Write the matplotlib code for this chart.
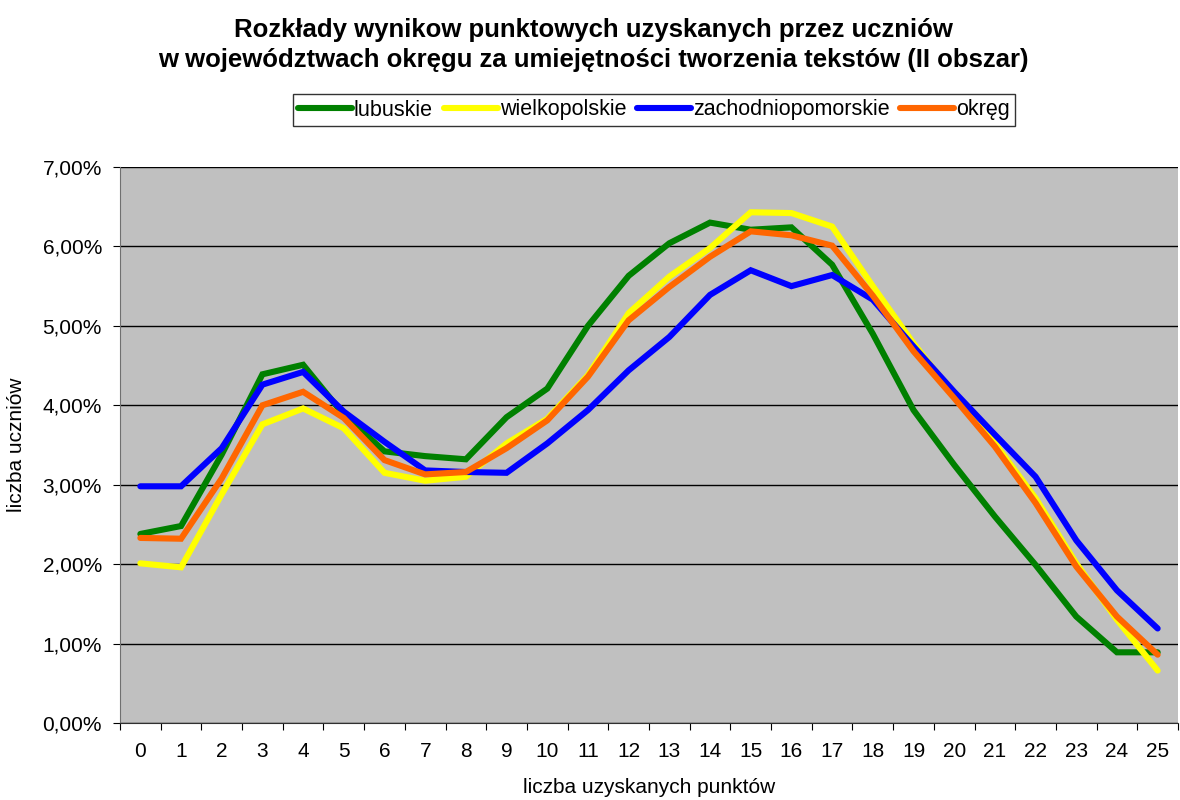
import numpy as np
import matplotlib
matplotlib.use("Agg")
import matplotlib.pyplot as plt
from matplotlib.ticker import FuncFormatter, FixedLocator

plt.rcParams["font.family"] = ["Liberation Sans", "DejaVu Sans"]

# data (percent of students per score)
points = list(range(26))
lubuskie = [2.38, 2.48, 3.38, 4.39, 4.51, 3.88, 3.42, 3.36, 3.32, 3.85, 4.21, 5.00,
            5.63, 6.04, 6.30, 6.21, 6.24, 5.77, 4.90, 3.94, 3.25, 2.60, 1.99, 1.34,
            0.89, 0.89]
wielkopolskie = [2.01, 1.96, 2.88, 3.76, 3.96, 3.71, 3.15, 3.05, 3.10, 3.52, 3.83, 4.38,
                 5.16, 5.62, 5.98, 6.43, 6.42, 6.25, 5.50, 4.78, 4.13, 3.52, 2.83, 2.01,
                 1.30, 0.66]
zachodniopomorskie = [2.98, 2.98, 3.46, 4.26, 4.42, 3.92, 3.54, 3.18, 3.16, 3.15, 3.52, 3.94,
                      4.44, 4.86, 5.39, 5.70, 5.50, 5.64, 5.33, 4.74, 4.17, 3.63, 3.10, 2.30,
                      1.67, 1.19]
okreg = [2.33, 2.32, 3.08, 4.00, 4.17, 3.84, 3.31, 3.13, 3.16, 3.46, 3.81, 4.36,
         5.07, 5.49, 5.87, 6.19, 6.14, 6.01, 5.38, 4.68, 4.09, 3.48, 2.77, 1.97,
         1.34, 0.86]

series = [
    ("lubuskie", lubuskie, "#008000"),
    ("wielkopolskie", wielkopolskie, "#FFFF00"),
    ("zachodniopomorskie", zachodniopomorskie, "#0000FF"),
    ("okręg", okreg, "#FF6600"),
]

fig = plt.figure(figsize=(11.8, 8), dpi=100)
ax = fig.add_axes([120 / 1180, 77 / 800, 1058 / 1180, 556 / 800])
ax.set_facecolor("#C0C0C0")

for name, vals, col in series:
    ax.plot(points, vals, color=col, lw=4.4, label=name,
            solid_capstyle="round", solid_joinstyle="miter")

ax.set_xlim(-0.5, 25.5)
ax.set_ylim(0, 7)
ax.set_yticks(np.arange(0, 7.01, 1))
ax.yaxis.set_major_formatter(FuncFormatter(lambda v, p: f"{v:.2f}%".replace(".", ",")))
ax.grid(axis="y", color="black", lw=1)
ax.set_axisbelow(True)

# category ticks between labels, labels centred under points
ax.xaxis.set_major_locator(FixedLocator(np.arange(-0.5, 26, 1)))
ax.xaxis.set_minor_locator(FixedLocator(points))
ax.set_xticklabels([])
ax.set_xticklabels([str(p) for p in points], minor=True)
ax.tick_params(axis="x", which="major", length=5, color="black")
ax.tick_params(axis="x", which="minor", length=0, labelsize=15, pad=14)
ax.tick_params(axis="y", length=5, labelsize=15, pad=8)

for s in ("top", "right"):
    ax.spines[s].set_visible(False)
ax.spines["left"].set_color("#707070")
ax.spines["bottom"].set_color("#303030")

ax.set_xlabel("liczba uzyskanych punktów", fontsize=15, labelpad=12)
ax.set_ylabel("liczba uczniów", fontsize=15, labelpad=12)

fig.suptitle("Rozkłady wynikow punktowych uzyskanych przez uczniów\n"
             "w województwach okręgu za umiejętności tworzenia tekstów (II obszar)",
             x=593 / 1180, y=0.978, fontsize=18.5, fontweight="bold", linespacing=1.35)

leg = fig.legend(loc="center", bbox_to_anchor=(654 / 1180, 1 - 110 / 800), ncol=4,
                 fontsize=15.5, frameon=True, fancybox=False, edgecolor="black",
                 handlelength=2.5, handletextpad=0.1, columnspacing=0.5,
                 borderpad=0.25, borderaxespad=0)
leg.get_frame().set_linewidth(1)

fig.savefig("out.png", dpi=100)
